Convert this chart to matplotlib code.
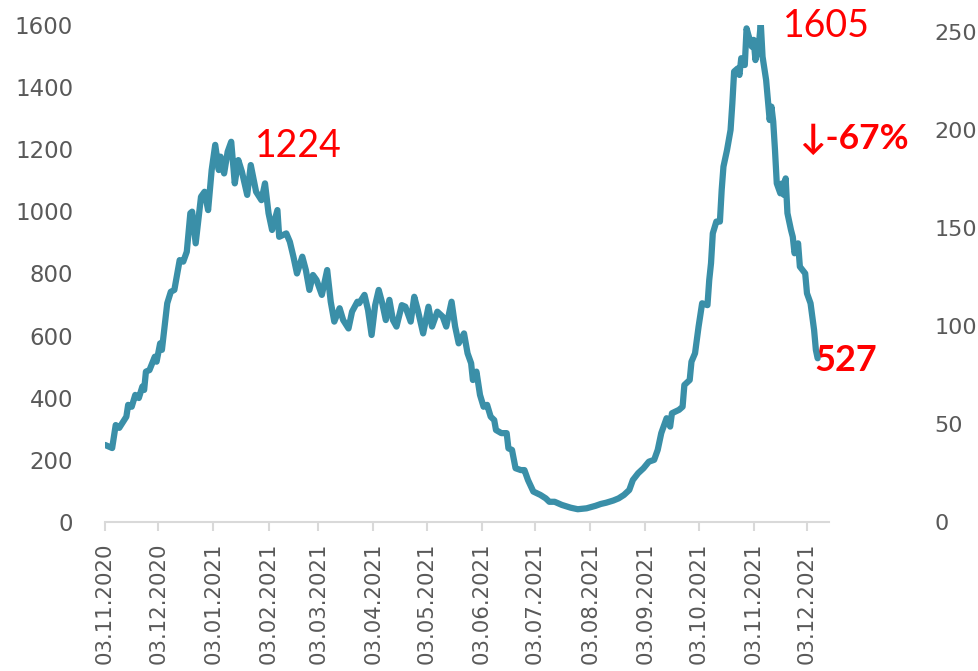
import matplotlib
matplotlib.use('Agg')
from matplotlib import pyplot as plt
import pandas as pd

### Data
start_date = '2020-11-03'
# day offsets from start_date
days = [0, 4, 6, 8, 12, 13, 15, 17, 19, 21, 22, 23, 25, 28, 29, 31, 32, 35, 37, 39,
        42, 44, 46, 48, 49, 51, 54, 56, 58, 60, 62, 64, 65, 67, 69, 71, 73, 75, 77, 80,
        82, 85, 88, 90, 92, 94, 97, 98, 102, 104, 106, 108, 111, 113, 115, 117, 119, 122, 125, 127,
        129, 132, 134, 137, 139, 142, 143, 146, 148, 150, 152, 154, 156, 158, 160, 162, 164, 167, 169, 172,
        174, 176, 179, 182, 184, 187, 190, 192, 195, 197, 199, 202, 204, 206, 207, 209, 211, 213, 215, 217,
        219, 220, 223, 226, 227, 229, 231, 234, 236, 238, 241, 245, 248, 250, 253, 257, 262, 266, 271, 276,
        279, 282, 286, 289, 292, 295, 297, 300, 303, 306, 309, 311, 313, 316, 318, 319, 323, 325, 326, 329,
        330, 332, 334, 336, 339, 340, 341, 342, 344, 346, 347, 348, 350, 352, 353, 354, 356, 357, 358, 360,
        361, 362, 364, 365, 366, 368, 369, 370, 372, 374, 375, 376, 377, 378, 380, 381, 382, 383, 384, 386,
        387, 388, 390, 391, 394, 395, 397, 399, 400, 401]
values = [248, 238, 312, 303, 339, 377, 371, 409, 399, 436, 425, 484, 489, 532, 516, 575, 554, 704, 741, 747,
          843, 838, 870, 994, 999, 897, 1047, 1063, 1004, 1133, 1214, 1133, 1176, 1122, 1192, 1224, 1090, 1165, 1128, 1053,
          1149, 1063, 1036, 1090, 994, 940, 1004, 918, 929, 902, 854, 800, 854, 811, 747, 795, 779, 731, 811, 709,
          645, 688, 650, 623, 677, 709, 704, 731, 682, 602, 698, 747, 704, 650, 715, 650, 629, 698, 693, 645,
          725, 682, 607, 693, 629, 677, 661, 629, 709, 629, 575, 607, 543, 511, 457, 484, 409, 371, 377, 339,
          328, 296, 286, 286, 237, 232, 173, 167, 167, 135, 98, 87, 76, 65, 65, 55, 46, 41, 44, 52,
          58, 62, 69, 76, 87, 103, 135, 157, 173, 194, 200, 232, 286, 334, 307, 350, 361, 371, 441, 457,
          516, 543, 629, 704, 698, 779, 833, 929, 967, 967, 1069, 1144, 1197, 1262, 1348, 1450, 1460, 1439, 1493, 1471,
          1589, 1568, 1530, 1552, 1487, 1541, 1605, 1498, 1423, 1294, 1337, 1289, 1197, 1090, 1058, 1090, 1053, 1106, 994, 940,
          918, 865, 897, 822, 800, 736, 704, 618, 554, 527]

tick_labels = ['03.11.2020', '03.12.2020', '03.01.2021', '03.02.2021', '03.03.2021',
               '03.04.2021', '03.05.2021', '03.06.2021', '03.07.2021', '03.08.2021',
               '03.09.2021', '03.10.2021', '03.11.2021', '03.12.2021']
left_ticks = [0, 200, 400, 600, 800, 1000, 1200, 1400, 1600]
right_ticks = [0, 50, 100, 150, 200, 250]

### Pre-process
dates = pd.Timestamp(start_date) + pd.to_timedelta(days, unit='D')
tick_dates = pd.to_datetime(tick_labels, format='%d.%m.%Y')

# first wave peak, overall peak, last value
n_first = len([d for d in days if d < 250])
peak1_idx = max(range(n_first), key=lambda i: values[i])
peak_idx = max(range(len(values)), key=lambda i: values[i])
last_idx = len(values) - 1
drop_pct = round((values[last_idx] / values[peak_idx] - 1) * 100)

### Plot
plt.rcParams['font.family'] = ['DejaVu Sans']
line_col = '#3A8FA8'
grey = '#595959'
axis_col = '#D9D9D9'
red = '#FF0000'

fig = plt.figure(figsize=(9.79, 6.71), dpi=100)
ax = fig.add_axes([0.1073, 0.2221, 0.7395, 0.7407])

ax.plot(dates, values, color=line_col, linewidth=4.5, solid_joinstyle='round',
        solid_capstyle='round', zorder=5)

ax.set_xlim(pd.Timestamp(start_date), pd.Timestamp(start_date) + pd.Timedelta(days=407.4))
ax.set_ylim(0, 1600)
ax.set_yticks(left_ticks)
ax.set_xticks(tick_dates)
ax.set_xticklabels(tick_labels, rotation=90, ha='center', va='top')

ax.tick_params(axis='y', length=0, pad=23, labelsize=16.5, labelcolor=grey)
ax.tick_params(axis='x', length=6.5, width=1.5, color=axis_col, pad=8,
               labelsize=15.3, labelcolor=grey)

for s in ['top', 'right', 'left']:
    ax.spines[s].set_visible(False)
ax.spines['bottom'].set_color(axis_col)
ax.spines['bottom'].set_linewidth(1.5)

# Secondary axis (ticks only)
ax2 = ax.twinx()
ax2.set_ylim(0, 253.6)
ax2.set_yticks(right_ticks)
ax2.tick_params(axis='y', length=0, pad=76, labelsize=16, labelcolor=grey)
for s in ax2.spines.values():
    s.set_visible(False)
for lab in ax2.get_yticklabels():
    lab.set_horizontalalignment('left')

# Annotations
ann_font = ['Lato', 'DejaVu Sans']
ax.annotate(str(values[peak1_idx]), xy=(dates[peak1_idx], values[peak1_idx]),
            xytext=(24, -4), textcoords='offset pixels', ha='left', va='center',
            color=red, fontsize=27, family=ann_font, annotation_clip=False)
ax.annotate(str(values[peak_idx]), xy=(dates[peak_idx], values[peak_idx]),
            xytext=(22, -3), textcoords='offset pixels', ha='left', va='center',
            color=red, fontsize=27, family=ann_font, annotation_clip=False)
ax.annotate('\u2193' + str(drop_pct) + '%', xy=(dates[peak_idx], values[peak_idx]),
            xytext=(38, -116), textcoords='offset pixels', ha='left', va='center',
            color=red, fontsize=25.5, fontweight='bold', family=ann_font, annotation_clip=False)
ax.annotate(str(values[last_idx]), xy=(dates[last_idx], values[last_idx]),
            xytext=(-3, -2), textcoords='offset pixels', ha='left', va='center',
            color=red, fontsize=26, fontweight='bold', family=ann_font, annotation_clip=False)

plt.savefig('out.png', dpi=100)
